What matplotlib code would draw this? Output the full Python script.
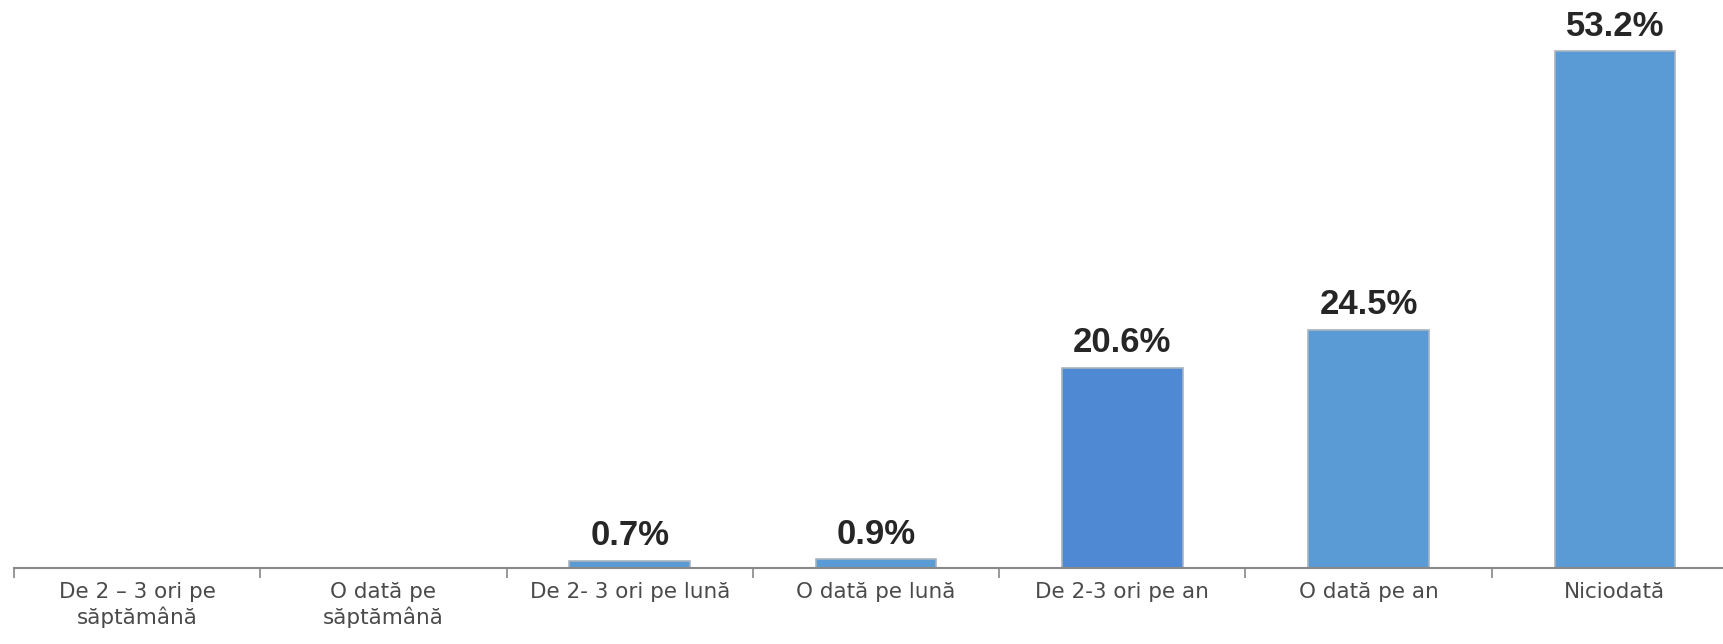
import numpy as np
import matplotlib
matplotlib.use("Agg")
from matplotlib import pyplot as plt

categories = ["De 2 \u2013 3 ori pe\nsăptămână", "O dată pe\nsăptămână", "De 2- 3 ori pe lună",
              "O dată pe lună", "De 2-3 ori pe an", "O dată pe an", "Niciodată"]
values = [0, 0, 0.7, 0.9, 20.6, 24.5, 53.2]
labels = ["", "", "0.7%", "0.9%", "20.6%", "24.5%", "53.2%"]

fig = plt.figure(figsize=(17.23, 6.44), dpi=100)
ax = fig.add_axes([14 / 1723, 76 / 644, 1724 / 1723, 568 / 644])

x = np.arange(len(categories))
colors = ["#5A9AD5"] * len(categories)
colors[4] = "#4F89D3"
bars = ax.bar(x, values, width=0.49, color=colors, edgecolor="#A9B4BF", linewidth=1.2)

# value labels above bars
for b, lab in zip(bars, labels):
    if lab:
        ax.text(b.get_x() + b.get_width() / 2, b.get_height() + 0.9, lab,
                ha="center", va="bottom", fontsize=25, fontweight="bold", color="#262626",
                family=["Liberation Sans", "DejaVu Sans"])

ax.set_xlim(-0.5, len(categories) - 0.5)
ax.set_ylim(0, 58.5)

ax.set_xticks(x)
ax.set_xticklabels(categories, fontsize=15.5, color="#4a4a4a", linespacing=1.25)
ax.set_xticks(np.arange(len(categories) + 1) - 0.5, minor=True)
ax.tick_params(axis="x", which="major", length=0, pad=10)
ax.tick_params(axis="x", which="minor", length=7, width=1.2, color="#888888")
ax.set_yticks([])

for s in ["top", "right", "left"]:
    ax.spines[s].set_visible(False)
ax.spines["bottom"].set_color("#888888")
ax.spines["bottom"].set_linewidth(1.5)

fig.savefig("out.png", dpi=100)
